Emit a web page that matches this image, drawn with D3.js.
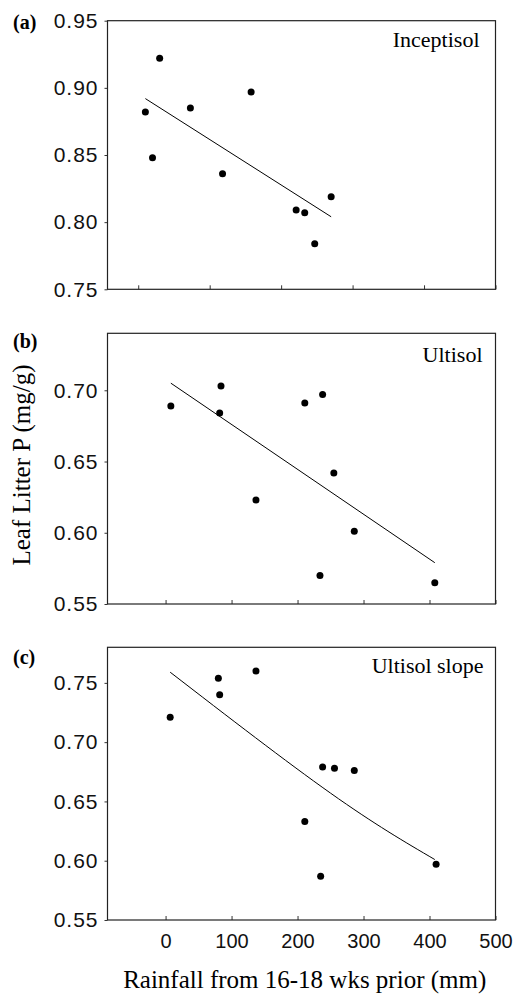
<!DOCTYPE html>
<html>
<head>
<meta charset="utf-8">
<script src="https://cdn.jsdelivr.net/npm/d3@7"></script>
<style>
    body { margin: 0; background: #fff; }
</style>
</head>
<body>
<div id="showBox"></div>
<script>
// rainfall (mm) and leaf litter P (mg/g)
const inceptX = [10, 20, 30, 73, 118, 158, 221, 233, 247, 270]
const inceptY = [0.882, 0.848, 0.922, 0.885, 0.836, 0.897, 0.809, 0.807, 0.784, 0.819]
const inceptFitX = [10, 270]
const inceptFitY = [0.892, 0.804]

const ultX = [8, 82, 84, 137, 211, 234, 238, 255, 286, 408]
const ultY = [0.689, 0.684, 0.703, 0.623, 0.691, 0.570, 0.697, 0.642, 0.601, 0.565]
const ultFitX = [8, 408]
const ultFitY = [0.705, 0.579]

const slopeX = [7, 80, 82, 137, 211, 235, 238, 256, 286, 410]
const slopeY = [0.721, 0.754, 0.740, 0.760, 0.633, 0.587, 0.679, 0.678, 0.676, 0.597]
const slopeFitX = [7, 250, 408]
const slopeFitY = [0.759, 0.657, 0.601]

const xTicks = [0, 100, 200, 300, 400, 500]

const panels = [
    {tag: "(a)", name: "Inceptisol", xs: inceptX, ys: inceptY, fx: inceptFitX, fy: inceptFitY,
     xDomain: [-43, 500], yDomain: [0.75, 0.95], yTicks: [0.75, 0.80, 0.85, 0.90, 0.95],
     top: 20.7, bottom: 289.3, nameY: 46.5, namePad: 16, tagY: 29, labels: false},
    {tag: "(b)", name: "Ultisol", xs: ultX, ys: ultY, fx: ultFitX, fy: ultFitY,
     xDomain: [-88, 500], yDomain: [0.55, 0.74], yTicks: [0.55, 0.60, 0.65, 0.70],
     top: 333.3, bottom: 604, nameY: 362.3, namePad: 13, tagY: 348, labels: false},
    {tag: "(c)", name: "Ultisol slope", xs: slopeX, ys: slopeY, fx: slopeFitX, fy: slopeFitY,
     xDomain: [-88, 500], yDomain: [0.55, 0.78], yTicks: [0.55, 0.60, 0.65, 0.70, 0.75],
     top: 647.3, bottom: 920, nameY: 673.3, namePad: 12, tagY: 664, labels: true, curved: true}
]

const left = 107.5, right = 495.5
const svg = d3.select("#showBox").append("svg")
    .attr("width", 516)
    .attr("height", 995)

panels.forEach(p => {
    const x = d3.scaleLinear().domain(p.xDomain).range([left, right])
    const y = d3.scaleLinear().domain(p.yDomain).range([p.bottom, p.top])
    const g = svg.append("g")

    // y axis, ticks outward
    const ya = g.append("g")
        .attr("transform", `translate(${left},0)`)
        .call(d3.axisLeft(y).tickValues(p.yTicks).tickFormat(d3.format(".2f")).tickSize(3).tickPadding(6))
    ya.select(".domain").remove()
    ya.selectAll("line").attr("stroke", "#333")
    ya.selectAll("text")
        .attr("font-family", "Liberation Sans, Arial, sans-serif")
        .attr("font-size", 21)
        .attr("letter-spacing", 1)
        .attr("fill", "#111")

    // x axis, ticks inward
    const xa = g.append("g")
        .attr("transform", `translate(0,${p.bottom})`)
        .call(d3.axisBottom(x).tickValues(xTicks).tickSize(-4).tickPadding(14))
    xa.select(".domain").remove()
    xa.selectAll("line").attr("stroke", "#333")
    xa.selectAll("text")
        .attr("font-family", "Liberation Sans, Arial, sans-serif")
        .attr("font-size", 20)
        .attr("fill", "#111")
        .style("display", p.labels ? null : "none")

    g.append("rect")
        .attr("x", left)
        .attr("y", p.top)
        .attr("width", right - left)
        .attr("height", p.bottom - p.top)
        .attr("fill", "none")
        .attr("stroke", "#222")
        .attr("stroke-width", 1.2)

    const fit = p.fx.map((v, i) => [v, p.fy[i]])
    g.append("path")
        .datum(fit)
        .attr("fill", "none")
        .attr("stroke", "#000")
        .attr("stroke-width", 1)
        .attr("d", d3.line()
            .x(d => x(d[0]))
            .y(d => y(d[1]))
            .curve(p.curved ? d3.curveNatural : d3.curveLinear))

    g.append("g")
        .selectAll("circle")
        .data(p.xs.map((v, i) => [v, p.ys[i]]))
        .join("circle")
        .attr("cx", d => x(d[0]))
        .attr("cy", d => y(d[1]))
        .attr("r", 3.5)
        .attr("fill", "#000")

    g.append("text")
        .attr("x", right - p.namePad)
        .attr("y", p.nameY)
        .attr("text-anchor", "end")
        .attr("font-family", "Liberation Serif, Times New Roman, serif")
        .attr("font-size", 22)
        .text(p.name)

    g.append("text")
        .attr("x", 13)
        .attr("y", p.tagY)
        .attr("font-family", "Liberation Serif, Times New Roman, serif")
        .attr("font-weight", "bold")
        .attr("font-size", 20)
        .text(p.tag)
})

svg.append("text")
    .attr("transform", "translate(29.5,465) rotate(-90)")
    .attr("text-anchor", "middle")
    .attr("font-family", "Liberation Serif, Times New Roman, serif")
    .attr("font-size", 25)
    .text("Leaf Litter P (mg/g)")

svg.append("text")
    .attr("x", 304.7)
    .attr("y", 988)
    .attr("text-anchor", "middle")
    .attr("font-family", "Liberation Serif, Times New Roman, serif")
    .attr("font-size", 25)
    .text("Rainfall from 16-18 wks prior (mm)")
</script>
</body>
</html>
